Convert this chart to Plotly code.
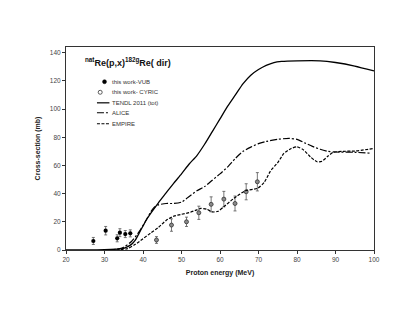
import plotly.graph_objects as go

# measured cross sections (this work)
vub_energy = [27.1, 30.3, 33.3, 34.0, 35.4, 36.7]
vub_xs = [6.4, 13.7, 8.3, 12.3, 11.3, 11.8]
vub_err = [2.5, 3.0, 2.5, 2.8, 2.5, 2.5]

cyric_energy = [43.5, 47.4, 51.3, 54.5, 57.7, 61.0, 63.9, 66.8, 69.7]
cyric_xs = [7.1, 17.7, 20.0, 26.4, 32.4, 36.1, 33.0, 41.3, 48.4]
cyric_err = [2.4, 4.4, 3.3, 4.7, 5.3, 5.5, 5.3, 5.7, 6.5]

# model calculations
tendl_energy = [20, 25, 30, 33, 35, 37, 38, 39, 40, 41, 42, 44, 46, 48, 50, 52, 54, 56,
                58, 60, 62, 64, 66, 68, 70, 72, 74, 76, 80, 86, 90, 95, 100]
tendl_xs = [0, 0, 0.2, 0.6, 1.2, 4, 7, 12, 17, 22, 26, 33.5, 40.5, 47.5, 54, 61, 67, 75,
            84, 93, 102, 110, 118, 124, 128, 131, 133, 133.8, 134.2, 134.2, 133, 130.5, 127]

alice_energy = [30, 33, 35, 37, 39, 41, 42, 43, 44, 46, 48, 50, 52, 54, 56, 58, 60, 62,
                64, 66, 68, 70, 72, 75, 78, 80, 82, 84, 86, 88, 90, 95, 99]
alice_xs = [0, 0.5, 2, 6, 13, 22, 27, 30.5, 32, 33, 33, 34, 38, 42, 45, 49.5, 54, 59,
            65, 70, 73, 75.5, 77, 78.5, 79.2, 78.5, 76, 73.5, 71.5, 70, 69.5, 69.3, 68.7]

empire_energy = [33, 36, 38, 40, 42, 44, 46, 48, 50, 52, 54, 55, 56.5, 58, 59.5, 61, 63.6,
                 66.6, 69.7, 71.5, 73.1, 75, 76.6, 78.5, 80, 81.7, 83.5, 85.2, 86.5, 88,
                 89.4, 92, 95, 100]
empire_xs = [0, 1, 4, 8, 12, 16, 21, 24, 25.3, 26.5, 28.5, 29.5, 29, 27, 27.5, 30.7, 36.6,
             42, 43.7, 48, 56, 62, 68.5, 72, 73.2, 71, 66, 62.6, 63, 66.5, 69.3, 70,
             70.2, 72]

legend_names = ['this work-VUB', 'this work- CYRIC', 'TENDL 2011 (tot)', 'ALICE', 'EMPIRE']

FONT = 'Arial, Liberation Sans, sans-serif'
ALICE_DASH = '7px,2px,2px,2px'
EMPIRE_DASH = '3px,1.5px'

fig = go.Figure()
fig.add_scatter(x=vub_energy, y=vub_xs, mode='markers', name=legend_names[0],
                marker=dict(symbol='circle', size=4.2, color='black'),
                error_y=dict(type='data', array=vub_err, color='#555555',
                             thickness=0.8, width=1.5))
fig.add_scatter(x=cyric_energy, y=cyric_xs, mode='markers', name=legend_names[1],
                marker=dict(symbol='circle', size=4, color='#8a8a8a',
                            line=dict(width=0.8, color='#333333')),
                error_y=dict(type='data', array=cyric_err, color='#555555',
                             thickness=0.8, width=1.5))
fig.add_scatter(x=tendl_energy, y=tendl_xs, mode='lines', name=legend_names[2],
                line=dict(color='black', width=1.3, shape='spline', smoothing=0.6))
fig.add_scatter(x=alice_energy, y=alice_xs, mode='lines', name=legend_names[3],
                line=dict(color='black', width=1.2, dash=ALICE_DASH,
                          shape='spline', smoothing=0.6))
fig.add_scatter(x=empire_energy, y=empire_xs, mode='lines', name=legend_names[4],
                line=dict(color='black', width=1.2, dash=EMPIRE_DASH,
                          shape='spline', smoothing=0.6))

axis_style = dict(showline=True, linecolor='#333333', linewidth=1, mirror=True,
                  ticks='outside', ticklen=3, tickcolor='#333333', showgrid=False,
                  zeroline=False, tickfont=dict(size=6.5, color='#444444', family=FONT))

fig.update_xaxes(range=[20, 100], dtick=10, tick0=20, **axis_style,
                 title=dict(text='<b>Proton energy (MeV)</b>', standoff=8,
                            font=dict(size=7, color='#222222', family=FONT)))
fig.update_yaxes(range=[0, 144], dtick=20, tick0=0, **axis_style,
                 title=dict(text='<b>Cross-section (mb)</b>', standoff=8,
                            font=dict(size=7, color='#222222', family=FONT)))

fig.add_annotation(text='<b><sup>nat</sup>Re(p,x)<sup>182g</sup>Re( dir)</b>',
                   xref='paper', yref='paper', x=0.055, y=0.886, xanchor='left',
                   yanchor='bottom', showarrow=False,
                   font=dict(size=9, color='#111111', family=FONT))

# compact legend, drawn by hand like the original (plotly's rows are too tall)
rows_y = [0.829, 0.777, 0.725, 0.676, 0.622]
key_x0, key_x1, text_x = 0.1005, 0.141, 0.1435
fig.add_shape(type='circle', xref='paper', yref='paper', xsizemode='pixel',
              ysizemode='pixel', xanchor=0.125, yanchor=rows_y[0],
              x0=-2, x1=2, y0=-2, y1=2, fillcolor='black', line=dict(color='black', width=0.5))
fig.add_shape(type='circle', xref='paper', yref='paper', xsizemode='pixel',
              ysizemode='pixel', xanchor=0.111, yanchor=rows_y[1],
              x0=-2, x1=2, y0=-2, y1=2, line=dict(color='#333333', width=0.8))
for row, dash in zip(rows_y[2:], ['solid', ALICE_DASH, EMPIRE_DASH]):
    fig.add_shape(type='line', xref='paper', yref='paper', x0=key_x0, x1=key_x1,
                  y0=row, y1=row, line=dict(color='black', width=1.2, dash=dash))
for row, name in zip(rows_y, legend_names):
    fig.add_annotation(text=name, xref='paper', yref='paper', x=text_x, y=row,
                       xanchor='left', yanchor='middle', showarrow=False,
                       font=dict(size=6, color='#333333', family=FONT))

fig.update_layout(
    width=407, height=313,
    margin=dict(l=58, r=41, t=39, b=71),
    paper_bgcolor='white', plot_bgcolor='white',
    font=dict(family=FONT),
    showlegend=False,
)

fig.write_html("out.html")
